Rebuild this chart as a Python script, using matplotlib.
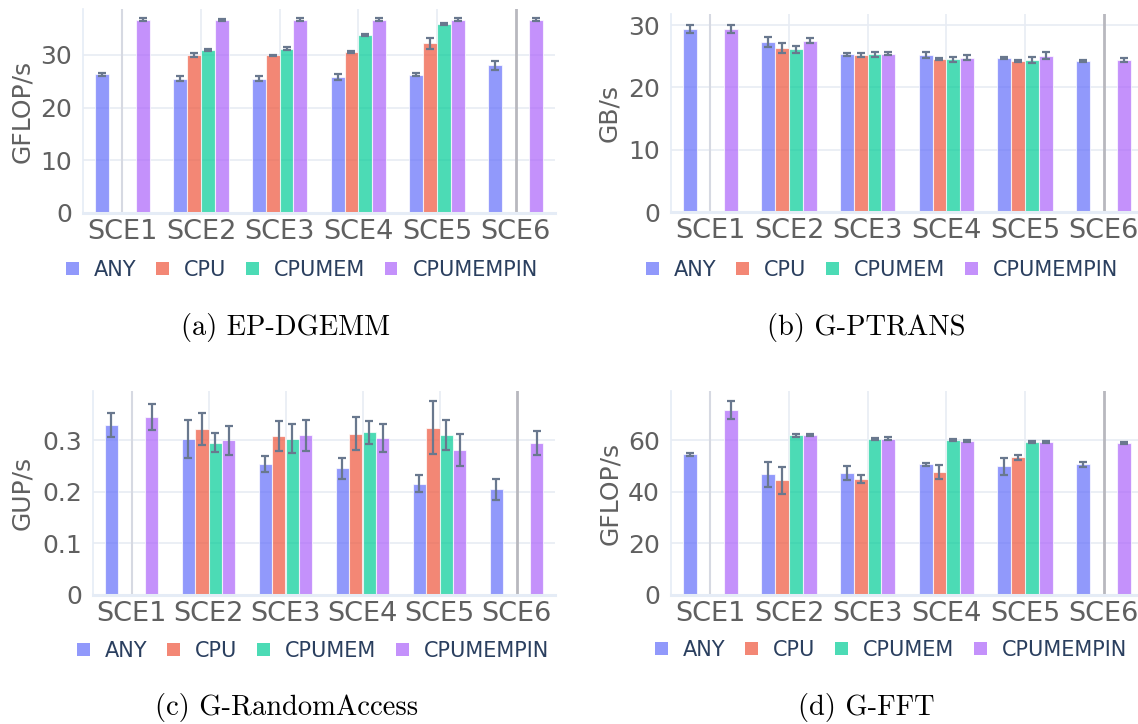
import numpy as np
import matplotlib
matplotlib.use("Agg")
import matplotlib.pyplot as plt
from matplotlib.patches import Patch

categories = ["SCE1", "SCE2", "SCE3", "SCE4", "SCE5", "SCE6"]
series = ["ANY", "CPU", "CPUMEM", "CPUMEMPIN"]
nan = np.nan

# (a) EP-DGEMM  GFLOP/s
dgemm_any = [26.3, 25.5, 25.5, 25.8, 26.2, 28.0]
dgemm_any_err = [0.3, 0.4, 0.5, 0.6, 0.3, 0.8]
dgemm_cpu = [nan, 29.9, 29.9, 30.6, 32.2, nan]
dgemm_cpu_err = [nan, 0.4, 0.1, 0.2, 1.0, nan]
dgemm_cpumem = [nan, 31.0, 31.2, 33.7, 35.8, nan]
dgemm_cpumem_err = [nan, 0.2, 0.3, 0.2, 0.2, nan]
dgemm_pin = [36.7, 36.6, 36.7, 36.7, 36.7, 36.7]
dgemm_pin_err = [0.2, 0.2, 0.2, 0.2, 0.2, 0.2]

# (b) G-PTRANS  GB/s
ptrans_any = [29.4, 27.3, 25.3, 25.2, 24.8, 24.3]
ptrans_any_err = [0.7, 0.75, 0.2, 0.5, 0.15, 0.15]
ptrans_cpu = [nan, 26.3, 25.2, 24.6, 24.2, nan]
ptrans_cpu_err = [nan, 0.8, 0.35, 0.2, 0.15, nan]
ptrans_cpumem = [nan, 26.1, 25.3, 24.5, 24.4, nan]
ptrans_cpumem_err = [nan, 0.6, 0.4, 0.35, 0.5, nan]
ptrans_pin = [29.4, 27.5, 25.4, 24.8, 25.1, 24.4]
ptrans_pin_err = [0.7, 0.4, 0.25, 0.35, 0.55, 0.3]

# (c) G-RandomAccess  GUP/s
ra_any = [0.330, 0.303, 0.254, 0.246, 0.216, 0.205]
ra_any_err = [0.023, 0.037, 0.015, 0.020, 0.017, 0.021]
ra_cpu = [nan, 0.323, 0.308, 0.313, 0.325, nan]
ra_cpu_err = [nan, 0.031, 0.029, 0.032, 0.0515, nan]
ra_cpumem = [nan, 0.296, 0.303, 0.316, 0.310, nan]
ra_cpumem_err = [nan, 0.019, 0.028, 0.022, 0.029, nan]
ra_pin = [0.345, 0.300, 0.310, 0.305, 0.281, 0.295]
ra_pin_err = [0.025, 0.028, 0.030, 0.027, 0.031, 0.024]

# (d) G-FFT  GFLOP/s
fft_any = [54.6, 46.8, 47.3, 50.7, 50.0, 50.7]
fft_any_err = [0.6, 4.7, 2.6, 0.6, 3.3, 0.9]
fft_cpu = [nan, 44.6, 45.0, 47.7, 53.4, nan]
fft_cpu_err = [nan, 5.2, 1.5, 2.7, 1.1, nan]
fft_cpumem = [nan, 62.1, 60.6, 60.1, 59.5, nan]
fft_cpumem_err = [nan, 0.6, 0.4, 0.3, 0.4, nan]
fft_pin = [71.8, 62.1, 60.6, 59.7, 59.5, 59.1]
fft_pin_err = [3.6, 0.4, 0.6, 0.3, 0.4, 0.4]

panels = [
    dict(vals=[dgemm_any, dgemm_cpu, dgemm_cpumem, dgemm_pin],
         errs=[dgemm_any_err, dgemm_cpu_err, dgemm_cpumem_err, dgemm_pin_err],
         ylabel="GFLOP/s", yticks=[0, 10, 20, 30], yticklabels=["0", "10", "20", "30"],
         ylim=38.7, rect=(83, 9, 555, 213), caption="(a) EP-DGEMM",
         cap_xy=(286, 327), leg_xy=(302, 270), ylab_x=22),
    dict(vals=[ptrans_any, ptrans_cpu, ptrans_cpumem, ptrans_pin],
         errs=[ptrans_any_err, ptrans_cpu_err, ptrans_cpumem_err, ptrans_pin_err],
         ylabel="GB/s", yticks=[0, 10, 20, 30], yticklabels=["0", "10", "20", "30"],
         ylim=31.8, rect=(671, 14, 1143, 212), caption="(b) G-PTRANS",
         cap_xy=(866, 327), leg_xy=(882, 270), ylab_x=609),
    dict(vals=[ra_any, ra_cpu, ra_cpumem, ra_pin],
         errs=[ra_any_err, ra_cpu_err, ra_cpumem_err, ra_pin_err],
         ylabel="GUP/s", yticks=[0, 0.1, 0.2, 0.3], yticklabels=["0", "0.1", "0.2", "0.3"],
         ylim=0.396, rect=(93, 391, 555, 595), caption="(c) G-RandomAccess",
         cap_xy=(287, 707), leg_xy=(313, 651), ylab_x=22),
    dict(vals=[fft_any, fft_cpu, fft_cpumem, fft_pin],
         errs=[fft_any_err, fft_cpu_err, fft_cpumem_err, fft_pin_err],
         ylabel="GFLOP/s", yticks=[0, 20, 40, 60], yticklabels=["0", "20", "40", "60"],
         ylim=79.2, rect=(671, 391, 1143, 595), caption="(d) G-FFT",
         cap_xy=(866, 707), leg_xy=(891, 650), ylab_x=610),
]

colors = ["#636EFA", "#EF553B", "#00CC96", "#AB63FA"]
ALPHA = 0.7
ERRC = "#69788E"
TICKC = "#606060"
LEGC = "#2A3F5F"
GRIDC = "#E8ECF4"
FONT = "DejaVu Sans"

W, H = 1138, 724
fig = plt.figure(figsize=(W / 100, H / 100), dpi=100)
fig.patch.set_facecolor("white")

slot = 0.175
x = np.arange(len(categories))

for p in panels:
    l, t, r, b = p["rect"]
    ax = fig.add_axes([l / W, 1 - b / H, (r - l) / W, (b - t) / H])
    ax.set_facecolor("white")
    for i, (v, e) in enumerate(zip(p["vals"], p["errs"])):
        v = np.array(v, dtype=float)
        e = np.array(e, dtype=float)
        m = ~np.isnan(v)
        pos = x + (i - 1.5) * slot
        ax.bar(pos[m], v[m], width=slot, color=colors[i], alpha=ALPHA,
               edgecolor="white", linewidth=0.8, zorder=3, label=series[i])
        ax.errorbar(pos[m], v[m], yerr=e[m], fmt="none", ecolor=ERRC,
                    elinewidth=1.6, capsize=3.0, capthick=1.6, zorder=4)
    ax.set_xlim(-0.5, len(categories) - 0.5)
    ax.set_ylim(0, p["ylim"])
    ax.set_xticks(x)
    ax.set_xticklabels(categories, fontsize=19.5, color=TICKC, family=FONT)
    ax.set_yticks(p["yticks"])
    ax.set_yticklabels(p["yticklabels"], fontsize=18, color=TICKC, family=FONT)
    ax.tick_params(axis="both", length=0)
    ax.tick_params(axis="x", pad=4)
    ax.tick_params(axis="y", pad=8)
    for yv in p["yticks"][1:]:
        ax.axhline(yv, color=GRIDC, lw=1.2, zorder=1)
    for xv in x[1:5]:
        ax.axvline(xv, color=GRIDC, lw=1.2, zorder=1)
    ax.axvline(x[0], color="#D6D9E2", lw=1.5, zorder=1)
    ax.axvline(x[5], color="#B8B8BE", lw=2.0, zorder=1)
    for s in ["top", "right"]:
        ax.spines[s].set_visible(False)
    ax.spines["left"].set_color("#E5ECF6")
    ax.spines["left"].set_linewidth(1.2)
    ax.spines["bottom"].set_color("#E5ECF6")
    ax.spines["bottom"].set_linewidth(2.2)
    ax.spines["bottom"].set_zorder(5)

    fig.text(p["ylab_x"] / W, 1 - ((t + b) / 2) / H, p["ylabel"], rotation=90,
             ha="center", va="center", fontsize=18, color=TICKC, family=FONT)

    handles = [Patch(facecolor=c, alpha=ALPHA, edgecolor="none") for c in colors]
    lx, ly = p["leg_xy"]
    fig.legend(handles, series, loc="center", bbox_to_anchor=(lx / W, 1 - ly / H),
               ncol=4, frameon=False, handlelength=0.6, handleheight=0.6,
               handletextpad=0.72, columnspacing=0.96, borderpad=0, borderaxespad=0,
               prop={"family": FONT, "size": 15}, labelcolor=LEGC)

    cx, cy = p["cap_xy"]
    fig.text(cx / W, 1 - cy / H, p["caption"], ha="center", va="center",
             fontsize=20.5, family="cmr10", color="black")

fig.savefig("out.png", dpi=100, facecolor="white")
